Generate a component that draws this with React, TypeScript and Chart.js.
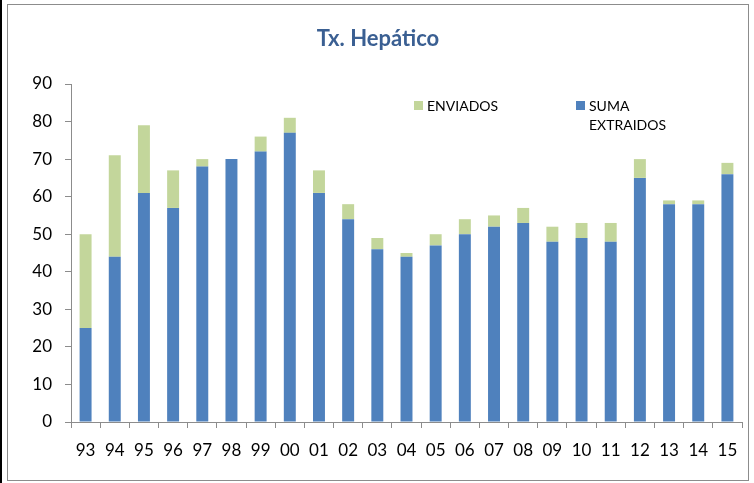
import React, { useEffect, useRef } from "react";
import { Chart, registerables } from "chart.js";

Chart.register(...registerables);

const categories = ["93","94","95","96","97","98","99","00","01","02","03","04","05","06","07","08","09","10","11","12","13","14","15"];
const sumaExtraidos = [25,44,61,57,68,70,72,77,61,54,46,44,47,50,52,53,48,49,48,65,58,58,66];
const enviados = [25,27,18,10,2,0,4,4,6,4,3,1,3,4,3,4,4,4,5,5,1,1,3];
const yTicks = [0,10,20,30,40,50,60,70,80,90];
const titleText = "Tx. Hepático";

const BLUE = "#4f81bd";
const GREEN = "#c3d69b";
const FONT = "Lato, 'Open Sans', sans-serif";

const framePlugin = {
  id: "frame",
  beforeDraw(chart: any) {
    const ctx = chart.ctx;
    ctx.save();
    ctx.fillStyle = "#ffffff";
    ctx.fillRect(0, 0, chart.width, chart.height);
    ctx.fillStyle = "#000000";
    ctx.fillRect(0, 0, 2, chart.height);
    ctx.strokeStyle = "#8c8c8c";
    ctx.lineWidth = 1;
    ctx.strokeRect(7.5, 4.5, 741, 476);
    ctx.restore();
  },
  afterDraw(chart: any) {
    const ctx = chart.ctx;
    ctx.save();
    // title
    ctx.fillStyle = "#3a5f92";
    ctx.font = `bold 22px ${FONT}`;
    ctx.textAlign = "center";
    ctx.textBaseline = "middle";
    ctx.fillText(titleText, 378, 39);
    // legend
    const ds = chart.data.datasets;
    ctx.font = `14px ${FONT}`;
    ctx.textAlign = "left";
    ctx.textBaseline = "middle";
    const items = [
      { d: ds[1], x: 414, lines: [ds[1].label] },
      { d: ds[0], x: 576, lines: ["SUMA", "EXTRAIDOS"] },
    ];
    items.forEach((it) => {
      ctx.fillStyle = it.d.backgroundColor;
      ctx.fillRect(it.x, 101, 9, 9);
      ctx.fillStyle = "#000000";
      it.lines.forEach((ln: string, i: number) => {
        ctx.fillText(ln, it.x + 13, 106 + i * 19);
      });
    });
    ctx.restore();
  },
};

export default function App() {
  const ref = useRef<HTMLCanvasElement>(null);
  useEffect(() => {
    if (!ref.current) return;
    const chart = new Chart(ref.current, {
      type: "bar",
      data: {
        labels: categories,
        datasets: [
          { label: "SUMA EXTRAIDOS", data: sumaExtraidos, backgroundColor: BLUE, barPercentage: 0.41, categoryPercentage: 1 },
          { label: "ENVIADOS", data: enviados, backgroundColor: GREEN, barPercentage: 0.41, categoryPercentage: 1 },
        ],
      },
      options: {
        animation: false,
        responsive: false,
        maintainAspectRatio: false,
        layout: { padding: { left: 0, top: 84, right: 12, bottom: 0 } },
        plugins: { legend: { display: false }, title: { display: false }, tooltip: { enabled: false } },
        scales: {
          x: {
            stacked: true,
            grid: { drawOnChartArea: false, drawTicks: true, tickLength: 6, color: "#8c8c8c", offset: true },
            border: { color: "#8c8c8c" },
            ticks: { color: "#000", font: { family: FONT, size: 17 }, padding: 12, maxRotation: 0, autoSkip: false },
            afterFit(scale: any) { scale.height = 61; },
          },
          y: {
            stacked: true,
            min: 0,
            max: 90,
            afterBuildTicks(scale: any) { scale.ticks = yTicks.map((v) => ({ value: v })); },
            grid: { drawOnChartArea: false, drawTicks: true, tickLength: 6, color: "#8c8c8c" },
            border: { color: "#8c8c8c" },
            ticks: { color: "#000", font: { family: FONT, size: 17 }, padding: 13 },
            afterFit(scale: any) { scale.width = 71; },
          },
        },
      },
      plugins: [framePlugin],
    });
    return () => chart.destroy();
  }, []);
  return (
    <div style={{ position: "fixed", left: 0, top: 0, width: 754, height: 483 }}>
      <canvas ref={ref} width={754} height={483} />
    </div>
  );
}
